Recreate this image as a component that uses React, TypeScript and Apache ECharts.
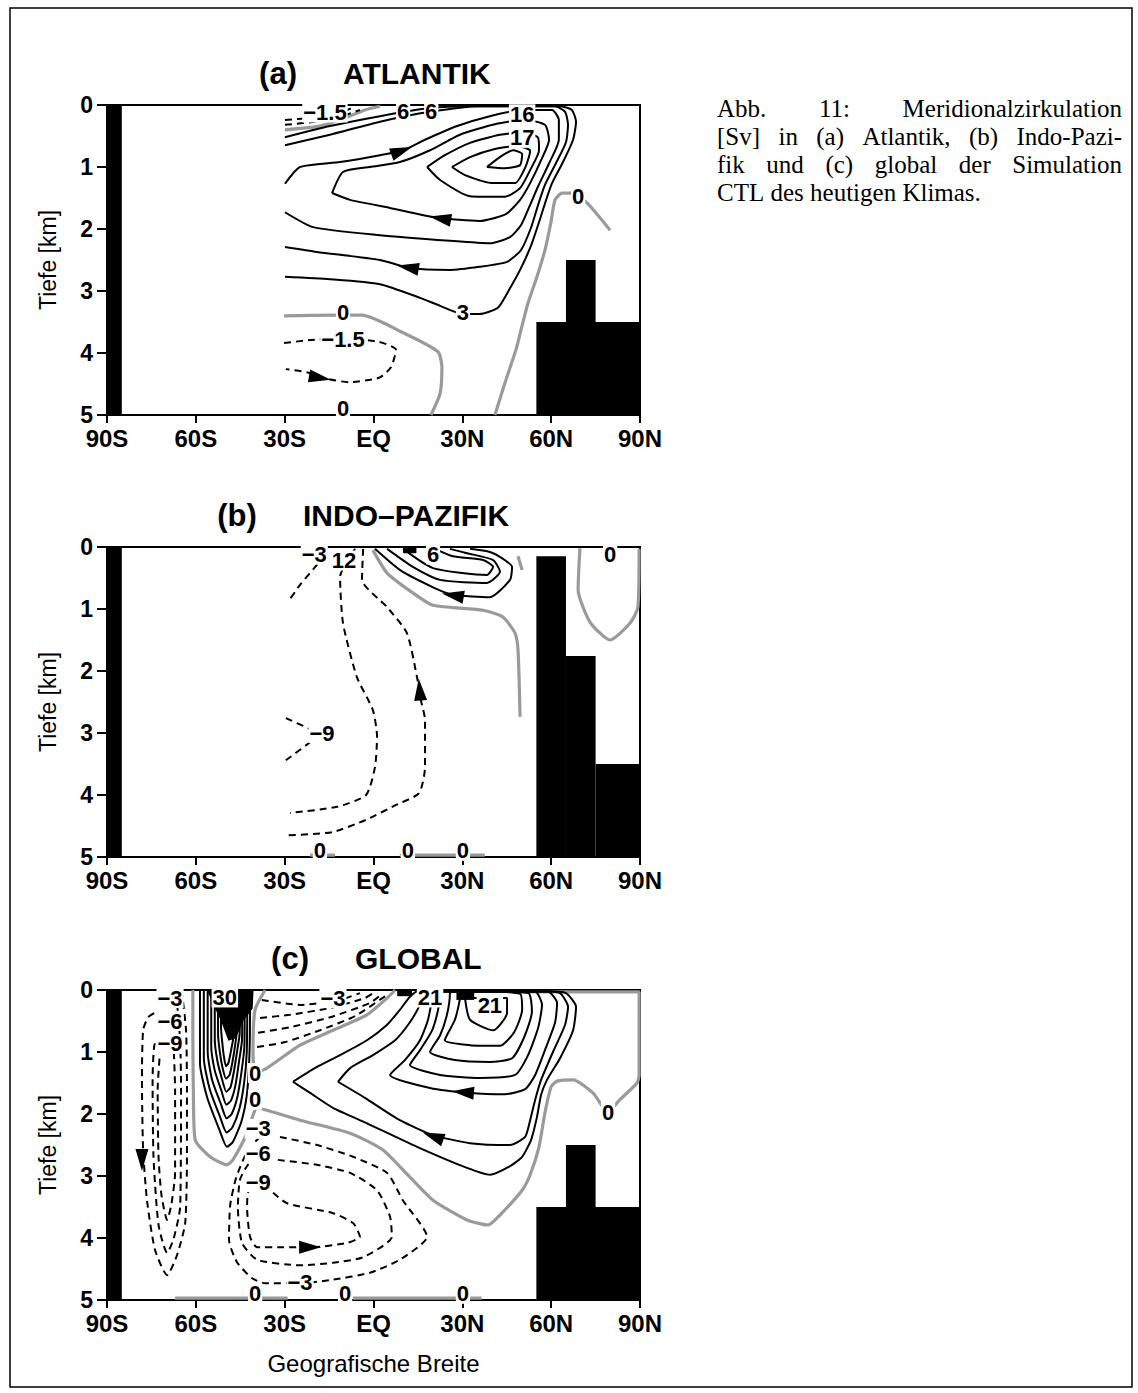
import React, { useEffect, useRef } from "react";
import * as echarts from "echarts";

// ---------- axes ----------
const latTicks = [-90, -60, -30, 0, 30, 60, 90];
const latTickLabels = ["90S", "60S", "30S", "EQ", "30N", "60N", "90N"];
const panelTitles = [["(a)", "ATLANTIK"], ["(b)", "INDO–PAZIFIK"], ["(c)", "GLOBAL"]];
const depthAxisName = "Tiefe [km]";
const latAxisName = "Geografische Breite";

// ---------- land masks [lat0, lat1, depth0, depth1] ----------
const maskA = [[-90, -85, 0, 5], [55, 90, 3.5, 5], [65, 75, 2.5, 5]];
const maskB = [[-90, -85, 0, 5], [55, 65, 0.15, 5], [65, 75, 1.76, 5], [75, 90, 3.5, 5]];
const maskC = [[-90, -85, 0, 5], [55, 90, 3.5, 5], [65, 75, 2.5, 5]];
const denseB = [[10, 14.5, 0, 0.1]];
const denseC = [[8, 13, 0, 0.1], [28, 34, 0, 0.16]];
const coreC = [[-56.2, 0], [-40.5, 0], [-40.8, 0.3], [-44, 0.5], [-46.5, 0.78], [-49, 0.82], [-51.5, 0.5], [-54.5, 0.2]];

// ---------- (a) Atlantik ----------
const a_pos3 = [[-29.9,0.52],[-14.7,0.34],[2.2,0.18],[19.1,0.05],[32.6,0.02],[63,0.02],[67,0.08],[68.4,0.27],[67.4,0.56],[64,0.92],[60.3,1.26],[58.3,1.53],[55.9,1.89],[53.2,2.27],[49.5,2.66],[45.8,2.98],[42,3.27],[35.8,3.37],[30.2,3.37],[22.5,3.24],[15.7,3.11],[2.2,2.89],[-14.7,2.81],[-29.9,2.77]];
const a_pos6 = [[-29.9,0.65],[-14.7,0.48],[2.2,0.27],[19.1,0.11],[35.8,0.02],[61.3,0.02],[64.7,0.11],[65.7,0.32],[65,0.6],[61.6,0.94],[57.9,1.29],[55.6,1.61],[53.2,1.98],[49.8,2.34],[45.1,2.53],[35.8,2.61],[25.8,2.66],[12.3,2.63],[2.2,2.5],[-19.1,2.37],[-29.9,2.29]];
const a_pos9 = [[-29.9,1.27],[-24.8,1.0],[-11.3,0.92],[2.2,0.81],[10,0.73],[17.4,0.56],[27.5,0.35],[39.3,0.18],[51.2,0.08],[60.3,0.08],[62.6,0.24],[62.6,0.56],[59.3,0.94],[55.6,1.31],[52.9,1.61],[49.8,1.94],[46.1,2.13],[39.3,2.23],[25.8,2.19],[2.2,2.1],[-20.4,1.97],[-29.9,1.73]];
const a_pos12 = [[-14,1.42],[-10.3,1.08],[-1.2,1.0],[8.9,0.92],[19.1,0.73],[29.2,0.48],[41,0.31],[51.2,0.24],[57.9,0.32],[59.3,0.56],[56.6,0.89],[52.9,1.26],[49.5,1.53],[44.7,1.76],[35.8,1.87],[21.8,1.82],[5.6,1.66],[-7.9,1.53],[-14,1.42]];
const a_pos15 = [[18.1,1.0],[24.1,0.81],[32.6,0.61],[42.7,0.48],[51.2,0.44],[55.6,0.53],[55.9,0.73],[52.9,1.05],[49.5,1.34],[44.4,1.48],[32.6,1.47],[22.5,1.21],[18.1,1.0]];
const a_pos16 = [[26.5,1.0],[32.6,0.84],[41,0.71],[48.8,0.66],[52.9,0.74],[51.5,0.98],[47.8,1.26],[40.4,1.26],[30.9,1.13],[26.5,1.0]];
const a_pos17 = [[38.3,1.0],[42.7,0.84],[47.1,0.73],[50.2,0.79],[49.5,0.97],[44.4,1.02],[38.3,1.0]];
const a_neg1 = [[-30.2,3.84],[-21.1,3.79],[-10.3,3.77],[1.9,3.82],[7.6,3.95],[5.9,4.23],[1.9,4.4],[-8.3,4.47],[-15.4,4.42],[-22.5,4.31],[-29.6,4.26]];
const a_neg2 = [[-29.9,0.24],[-21.4,0.21],[-13,0.15],[-6.2,0.03]];
const a_neg3 = [[-29.9,0.32],[-19.8,0.27],[-11.3,0.19],[-4.6,0.08]];
const a_zero1 = [[-29.9,0.4],[-18.1,0.34],[-9.6,0.21],[-2.9,0.08],[2.2,0.02]];
const a_zero2 = [[-30.2,3.4],[-12.3,3.39],[-3.9,3.39],[10.3,3.68],[21.8,3.98],[23.1,4.23],[22.5,4.65],[19.4,5]];
const a_zero3 = [[79.9,2.02],[72.1,1.58],[67,1.42],[63.7,1.42],[61.3,1.53],[59.9,1.9],[57.9,2.34],[55.2,2.77],[52.2,3.19],[49.8,3.63],[48.1,3.95],[44.4,4.48],[41,5]];
const a_labels = [[-16.4,0.12,"−1.5"],[10,0.1,"6"],[19.5,0.1,"6"],[50.2,0.15,"16"],[50.2,0.53,"17"],[30.2,3.35,"3"],[-10.3,3.35,"0"],[69.1,1.48,"0"],[-10.3,3.79,"−1.5"],[-10.3,4.9,"0"]];
const a_arrows = [[9.5,0.74,-70],[22.5,1.83,80],[11.6,2.62,80],[-18.1,4.4,-100]];

// ---------- (b) Indo-Pazifik ----------
const b_pos1 = [[0.5,0.03],[8.9,0.37],[20.1,0.65],[26.8,0.77],[39.3,0.81],[46.1,0.53],[46.8,0.32],[43.4,0.18],[39.3,0.08],[32.6,0.03]];
const b_pos2 = [[4.6,0.03],[13.3,0.32],[22.5,0.53],[38.3,0.58],[42.7,0.4],[40.4,0.21],[31.6,0.1],[25.8,0.03]];
const b_pos3 = [[10,0.03],[20.1,0.34],[38.3,0.45],[40.4,0.32],[37,0.21],[26.8,0.15],[20.8,0.03]];
const b_neg1 = [[-16.4,0.13],[-19.1,0.29],[-24.8,0.61],[-28.9,0.89]];
const b_neg2 = [[-6.2,0.03],[-11.3,0.48],[-10.3,1.23],[-5.6,2.1],[-0.2,2.63],[1.2,3.06],[0.5,3.55],[-2.5,4.0],[-12.3,4.19],[-28.2,4.29]];
const b_neg3 = [[-3.5,0.03],[-3.9,0.53],[4.6,0.97],[11.3,1.39],[14.7,2.1],[16,2.47],[17.4,2.79],[17.4,3.55],[15.4,3.97],[7.6,4.16],[-2.5,4.4],[-14,4.6],[-29.6,4.65]];
const b_neg4 = [[-29.6,2.76],[-19.4,2.98]];
const b_neg5 = [[-29.6,3.44],[-21.4,3.15]];
const b_zero1 = [[-0.2,0.05],[4.6,0.42],[13.3,0.74],[20.1,0.94],[37,1.02],[43.7,1.13],[47.8,1.39],[48.8,1.66],[49.5,2.74]];
const b_zero2 = [[48.8,0.15],[50.2,0.37]];
const b_zero3 = [[69.7,0.02],[69.1,0.69],[73.1,1.21],[79.9,1.5],[86.6,1.23],[89.3,0.97],[89.7,0.03]];
const b_zero4 = [[-21.4,4.97],[-13,4.97]];
const b_zero5 = [[8.9,4.97],[37.6,4.97]];
const b_labels = [[-20,0.12,"−3"],[-10,0.22,"12"],[20.1,0.12,"6"],[79.9,0.12,"0"],[-17.4,3.0,"−9"],[-18.1,4.9,"0"],[11.6,4.9,"0"],[30.2,4.9,"0"]];
const b_arrows = [[26.8,0.78,80],[15.6,2.3,5]];

// ---------- (c) Global ----------
const c_pos1 = [[-27.2,1.48],[-19.8,1.26],[-11.3,1.05],[-2.2,0.81],[4.6,0.56],[8.9,0.32],[12.3,0.11],[15,0.02],[58.9,0.02],[65,0.05],[68.4,0.27],[67.4,0.65],[63,1.1],[58.6,1.45],[56.6,1.69],[55.2,2.05],[53.2,2.42],[50.2,2.69],[45.8,2.85],[39.3,2.98],[31.6,2.87],[14.7,2.53],[-2.2,2.15],[-13.7,1.9],[-21.4,1.66],[-27.2,1.48]];
const c_pos2 = [[-12,1.48],[-7.9,1.26],[-0.2,1.05],[7.3,0.81],[12.3,0.52],[15.7,0.24],[17.4,0.03],[57.9,0.02],[63,0.05],[65.7,0.27],[64.7,0.56],[60.6,1.0],[56.6,1.45],[54.6,1.77],[52.9,2.1],[51.2,2.37],[46.1,2.5],[32.6,2.47],[20.1,2.34],[8.9,2.1],[-2.9,1.74],[-12,1.48]];
const c_pos3 = [[19.8,0.02],[19.8,0.08],[18.4,0.48],[15.7,0.81],[10.6,1.13],[5.6,1.37],[19.1,1.58],[32.6,1.66],[44.4,1.68],[51.2,1.6],[54.6,1.37],[57.9,0.97],[61.3,0.53],[62,0.21],[58.9,0.03],[19.8,0.02]];
const c_pos4 = [[22.5,0.02],[22.5,0.05],[21.8,0.32],[19.8,0.65],[15.7,0.97],[12.3,1.21],[22.5,1.37],[35.8,1.42],[47.8,1.37],[52.2,1.05],[55.6,0.61],[56.9,0.24],[54.6,0.03],[22.5,0.02]];
const c_pos5 = [[25.8,0.02],[25.8,0.06],[24.8,0.4],[22.5,0.73],[19.1,1.0],[27.5,1.13],[39.3,1.16],[46.8,1.1],[50.8,0.77],[53.5,0.35],[52.2,0.05],[25.8,0.02]];
const c_pos6 = [[29.2,0.02],[29.2,0.11],[27.5,0.48],[24.1,0.81],[32.6,0.89],[42.7,0.9],[47.5,0.68],[50.2,0.32],[49.5,0.06],[29.2,0.02]];
const c_pos7 = [[30.9,0.13],[32.6,0.48],[40.4,0.65],[45.1,0.37],[45.1,0.13],[30.9,0.13]];
const c_v1 = [[-58.6,0],[-58.6,1.18],[-56.2,1.73],[-52,2.26],[-49.5,2.53],[-47.5,2.45],[-44.6,2.12],[-42.8,1.7],[-42,1.18],[-41.7,0.4],[-41.7,0]];
const c_v2 = [[-57.3,0],[-57.3,1.1],[-55.3,1.6],[-51.8,2.05],[-49.6,2.3],[-47.7,2.22],[-45.3,1.92],[-43.7,1.5],[-42.8,1.0],[-42.6,0]];
const c_v3 = [[-56,0],[-56,1.0],[-54.5,1.45],[-51.6,1.83],[-49.6,2.07],[-47.9,2.0],[-46,1.73],[-44.6,1.33],[-43.6,0.9],[-43.5,0]];
const c_v4 = [[-54.8,0],[-54.8,0.9],[-53.6,1.3],[-51.4,1.62],[-49.7,1.85],[-48.1,1.78],[-46.6,1.53],[-45.4,1.15],[-44.4,0.8],[-44.3,0]];
const c_v5 = [[-53.6,0],[-53.6,0.8],[-52.7,1.15],[-51.2,1.43],[-49.7,1.64],[-48.3,1.57],[-47.2,1.33],[-46.1,1.0],[-45.2,0.7],[-45.1,0]];
const c_v6 = [[-52.5,0],[-52.5,0.7],[-51.9,1.0],[-51,1.25],[-49.8,1.43],[-48.6,1.37],[-47.6,1.15],[-46.7,0.88],[-46,0.6],[-45.9,0]];
const c_v7 = [[-51.5,0],[-51.5,0.6],[-51,0.88],[-50.5,1.08],[-49.8,1.23],[-49,1.18],[-48.2,1.0],[-47.3,0.76],[-46.8,0.5],[-46.7,0]];
const c_sd1 = [[-64.8,0],[-63.3,0.65],[-63,1.61],[-63,2.69],[-63.6,3.76],[-66.3,4.27],[-69.7,4.6],[-73.8,4.19],[-76.5,3.39],[-77.8,2.58],[-78.2,1.45],[-77.8,0.65],[-76.1,0.44],[-73.1,0.35]];
const c_sd2 = [[-66.7,0.03],[-65.3,0.81],[-65,1.61],[-65.3,3.5],[-67.6,4.03],[-69.7,4.24],[-72.6,3.79],[-74.3,2.69],[-74.6,1.45],[-74,0.89],[-72,0.73]];
const c_sd3 = [[-67.6,0.81],[-67,1.61],[-67,2.95],[-68.3,3.47],[-69.7,3.71],[-71.6,3.31],[-72.6,2.69],[-72.9,1.61],[-72,0.94]];
const c_d3 = [[-31.6,2.37],[-19.1,2.5],[-6.9,2.69],[4.6,2.95],[9.9,3.39],[18.1,3.98],[8.9,4.35],[-1.2,4.56],[-14.7,4.68],[-24.8,4.73],[-36.6,4.73],[-41,4.65],[-46.1,4.39],[-48.8,4.03],[-48.4,3.47],[-46.4,3.03],[-42.4,2.58],[-37.7,2.34]];
const c_d6 = [[-32.3,2.74],[-19.1,2.82],[-7.9,2.95],[1.2,3.23],[5.6,3.66],[6.2,3.98],[-3.5,4.31],[-13.7,4.4],[-24.8,4.44],[-39.3,4.35],[-44.4,4.08],[-45.8,3.5],[-45.1,3.06],[-42.4,2.82],[-39,2.7]];
const c_d9 = [[-33.9,3.27],[-29.2,3.44],[-13.7,3.6],[-6.9,3.76],[-4.6,3.98],[-8.9,4.08],[-21.4,4.15],[-30.6,4.15],[-39.3,4.15],[-41.7,3.98],[-42.7,3.5],[-42.4,3.27],[-41,3.19]];
const c_td1 = [[-37.7,0.16],[-24.8,0.24],[-11.3,0.16],[-4.6,0.05]];
const c_td2 = [[-38.3,0.45],[-28.2,0.4],[-14.7,0.29],[-2.9,0.13],[0.5,0.03]];
const c_td3 = [[-39,0.69],[-28.2,0.6],[-14.7,0.44],[-1.2,0.21],[2.9,0.06]];
const c_td4 = [[-39.3,0.92],[-29.9,0.84],[-18.1,0.65],[-6.2,0.42],[3.9,0.1]];
const c_zero1 = [[-61,0],[-61,0.81],[-60.8,1.77],[-60.2,2.42],[-55.2,2.69],[-49.5,2.82],[-47.5,2.74],[-42.7,2.31],[-39.3,1.9],[-36,1.94],[-24.8,2.1],[-7.9,2.31],[3.2,2.58],[12.3,3.02],[20.1,3.39],[31.6,3.71],[38.7,3.79],[42.7,3.63],[50.2,3.23],[52.9,2.98],[55.9,2.53],[57.9,1.98],[60,1.56],[62,1.47],[67.4,1.45],[74.1,1.66],[79.2,1.97],[83.2,1.77],[89,1.5],[89.7,1.37],[89.7,0.03],[47,0.03]];
const c_zero2 = [[-36.6,0],[-40,0.32],[-40.7,0.97],[-40,1.34],[-36,1.26],[-24.8,0.89],[-13.7,0.65],[-2.2,0.4],[4.6,0.13],[7.3,0]];
const c_zero3 = [[-67,4.97],[-29,4.97]];
const c_zero4 = [[-7,4.97],[36.5,4.97]];
const c_labels = [[-50.2,0.12,"30"],[19.1,0.12,"21"],[39.3,0.25,"21"],[-40,1.34,"0"],[-40,1.77,"0"],[79.2,1.97,"0"],[-40,4.9,"0"],[-9.6,4.9,"0"],[30.2,4.9,"0"],[-68.7,0.13,"−3"],[-68.7,0.5,"−6"],[-68.7,0.87,"−9"],[-13.7,0.13,"−3"],[-38.9,2.24,"−3"],[-38.9,2.63,"−6"],[-38.9,3.1,"−9"],[-24.8,4.71,"−3"]];
const c_arrows = [[-78.2,2.74,180],[30.2,1.65,85],[20.1,2.36,70],[-21.4,4.15,-90]];

// ---------- caption ----------
const captionLines = [
  ["Abb.", "11:", "Meridionalzirkulation"],
  ["[Sv]", "in", "(a)", "Atlantik,", "(b)", "Indo-Pazi-"],
  ["fik", "und", "(c)", "global", "der", "Simulation"],
  ["CTL", "des", "heutigen", "Klimas."],
];

const panels = [
  { pos: [a_pos3, a_pos6, a_pos9, a_pos12, a_pos15, a_pos16, a_pos17], neg: [a_neg1, a_neg2, a_neg3], zero: [a_zero1, a_zero2, a_zero3], labels: a_labels, arrows: a_arrows, masks: maskA, dense: [], poly: null },
  { pos: [b_pos1, b_pos2, b_pos3], neg: [b_neg1, b_neg2, b_neg3, b_neg4, b_neg5], zero: [b_zero1, b_zero2, b_zero3, b_zero4, b_zero5], labels: b_labels, arrows: b_arrows, masks: maskB, dense: denseB, poly: null },
  { pos: [c_pos1, c_pos2, c_pos3, c_pos4, c_pos5, c_pos6, c_pos7, c_v1, c_v2, c_v3, c_v4, c_v5, c_v6, c_v7], neg: [c_sd1, c_sd2, c_sd3, c_d3, c_d6, c_d9, c_td1, c_td2, c_td3, c_td4], zero: [c_zero1, c_zero2, c_zero3, c_zero4], labels: c_labels, arrows: c_arrows, masks: maskC, dense: denseC, poly: coreC },
];

// ---------- layout (pixels) ----------
const PLOT_LEFT = 107;
const PLOT_W = 533;
const PLOT_H = 310;
const PLOT_TOPS = [105, 547, 990];
const SANS = "Liberation Sans";
const SERIF = "Liberation Serif";

function rectRenderer(params: any, api: any) {
  const p0 = api.coord([api.value(0), api.value(2)]);
  const p1 = api.coord([api.value(1), api.value(3)]);
  return {
    type: "rect",
    shape: { x: Math.min(p0[0], p1[0]), y: Math.min(p0[1], p1[1]), width: Math.abs(p1[0] - p0[0]), height: Math.abs(p1[1] - p0[1]) },
    style: { fill: "#000" },
  };
}

function buildOption() {
  const grid: any[] = [];
  const xAxis: any[] = [];
  const yAxis: any[] = [];
  const series: any[] = [];
  const graphic: any[] = [];

  panels.forEach((p, i) => {
    grid.push({ left: PLOT_LEFT, top: PLOT_TOPS[i], width: PLOT_W, height: PLOT_H, show: true, borderColor: "#000", borderWidth: 2, backgroundColor: "transparent", containLabel: false, outerBoundsMode: "none" });
    xAxis.push({
      gridIndex: i, type: "value", min: -90, max: 90, interval: 30, position: "bottom",
      axisLine: { show: true, onZero: false, lineStyle: { color: "#000", width: 2 } },
      axisTick: { show: true, length: 8, lineStyle: { color: "#000", width: 2 } },
      axisLabel: { show: true, margin: 12, lineHeight: 22, color: "#000", fontSize: 24, fontWeight: "bold", fontFamily: SANS, showMinLabel: true, showMaxLabel: true,
        formatter: (v: number) => { const k = latTicks.indexOf(Math.round(v)); return k >= 0 ? latTickLabels[k] : ""; } },
      splitLine: { show: false },
    });
    yAxis.push({
      gridIndex: i, type: "value", min: 0, max: 5, interval: 1, inverse: true, position: "left",
      axisLine: { show: true, onZero: false, lineStyle: { color: "#000", width: 2 } },
      axisTick: { show: true, length: 10, lineStyle: { color: "#000", width: 2 } },
      axisLabel: { show: true, margin: 14, lineHeight: 18, color: "#000", fontSize: 23, fontWeight: "bold", fontFamily: SANS, showMinLabel: true, showMaxLabel: true },
      splitLine: { show: false },
    });

    p.zero.forEach((d) => series.push({ type: "line", xAxisIndex: i, yAxisIndex: i, data: d, symbol: "none", showSymbol: false, smooth: 0.2, silent: true, z: 2, lineStyle: { color: "#9a9a9a", width: 3.2, type: "solid" } }));
    p.neg.forEach((d) => series.push({ type: "line", xAxisIndex: i, yAxisIndex: i, data: d, symbol: "none", showSymbol: false, smooth: 0.2, silent: true, z: 3, lineStyle: { color: "#000", width: 2, type: [7, 5] } }));
    p.pos.forEach((d) => series.push({ type: "line", xAxisIndex: i, yAxisIndex: i, data: d, symbol: "none", showSymbol: false, smooth: 0.2, silent: true, z: 3, lineStyle: { color: "#000", width: 2, type: "solid" } }));

    series.push({ type: "custom", xAxisIndex: i, yAxisIndex: i, data: p.masks.concat(p.dense), silent: true, z: 4, encode: { x: [0, 1], y: [2, 3] }, renderItem: rectRenderer });
    if (p.poly) {
      const poly = p.poly;
      series.push({ type: "custom", xAxisIndex: i, yAxisIndex: i, data: [poly[0]], silent: true, z: 4,
        renderItem: (params: any, api: any) => ({ type: "polygon", shape: { points: poly.map((q) => api.coord(q)) }, style: { fill: "#000" } }) });
    }
    series.push({
      type: "scatter", xAxisIndex: i, yAxisIndex: i, symbol: "triangle", symbolSize: [13, 22], silent: true, z: 6,
      itemStyle: { color: "#000", opacity: 1 },
      data: p.arrows.map((a) => ({ value: [a[0], a[1]], symbolRotate: a[2] })),
    });
    series.push({
      type: "scatter", xAxisIndex: i, yAxisIndex: i, symbol: "circle", symbolSize: 1, silent: true, z: 8,
      itemStyle: { color: "#fff", opacity: 1 },
      data: p.labels.map((l) => ({ value: [l[0], l[1]], name: l[2] })),
      label: { show: true, position: "inside", formatter: (q: any) => q.name, color: "#000", opacity: 1, fontSize: 22, lineHeight: 20, fontWeight: "bold", fontFamily: SANS, backgroundColor: "#fff", padding: [0, 1, 0, 1], textBorderWidth: 0 },
    });

    // titles
    const ty = PLOT_TOPS[i] - 32;
    const titleX = [[278, 343], [237, 303], [290, 355]][i];
    graphic.push({ type: "text", x: titleX[0], y: ty, style: { text: panelTitles[i][0], fontSize: 31, fontWeight: "bold", fontFamily: SANS, fill: "#000", align: "center", verticalAlign: "middle", textAlign: "center", textVerticalAlign: "middle" } });
    graphic.push({ type: "text", x: titleX[1], y: ty, style: { text: panelTitles[i][1], fontSize: 30, fontWeight: "bold", fontFamily: SANS, fill: "#000", align: "left", verticalAlign: "middle", textAlign: "left", textVerticalAlign: "middle" } });
    // y axis name
    graphic.push({ type: "text", x: 48, y: PLOT_TOPS[i] + PLOT_H / 2, rotation: Math.PI / 2, style: { text: depthAxisName, fontSize: 23, fontFamily: SANS, fill: "#000", align: "center", verticalAlign: "middle", textAlign: "center", textVerticalAlign: "middle" } });
  });

  graphic.push({ type: "text", x: PLOT_LEFT + PLOT_W / 2, y: 1363, style: { text: latAxisName, fontSize: 24, fontFamily: SANS, fill: "#000", align: "center", verticalAlign: "middle", textAlign: "center", textVerticalAlign: "middle" } });

  // caption, justified
  const CAP_X = 717, CAP_W = 405, CAP_Y0 = 108, CAP_PITCH = 28, CAP_SIZE = 25;
  const canvas = document.createElement("canvas");
  const ctx = canvas.getContext("2d");
  const font = `${CAP_SIZE}px "${SERIF}"`;
  if (ctx) ctx.font = font;
  const measure = (t: string) => (ctx ? ctx.measureText(t).width : t.length * CAP_SIZE * 0.45);
  captionLines.forEach((words, li) => {
    const y = CAP_Y0 + li * CAP_PITCH;
    const widths = words.map(measure);
    const total = widths.reduce((s, w) => s + w, 0);
    const last = li === captionLines.length - 1;
    const gap = !last && words.length > 1 ? (CAP_W - total) / (words.length - 1) : measure(" ");
    let x = CAP_X;
    words.forEach((w, k) => {
      graphic.push({ type: "text", x, y, style: { text: w, fontSize: CAP_SIZE, lineHeight: 25, fontFamily: SERIF, fill: "#000", align: "left", verticalAlign: "middle", textAlign: "left", textVerticalAlign: "middle" } });
      x += widths[k] + gap;
    });
  });

  // outer frame
  graphic.push({ type: "rect", shape: { x: 10, y: 8, width: 1122, height: 1379 }, style: { fill: "none", stroke: "#000", lineWidth: 1.5 }, z: 0 });

  return { animation: false, backgroundColor: "#fff", grid, xAxis, yAxis, series, graphic };
}

export default function App() {
  const ref = useRef<HTMLDivElement>(null);
  useEffect(() => {
    document.body.style.margin = "0";
    if (!ref.current) return;
    const chart = echarts.init(ref.current, null, { renderer: "svg" });
    chart.setOption(buildOption() as any);
    return () => chart.dispose();
  }, []);
  return <div ref={ref} style={{ width: 1138, height: 1393 }} />;
}
